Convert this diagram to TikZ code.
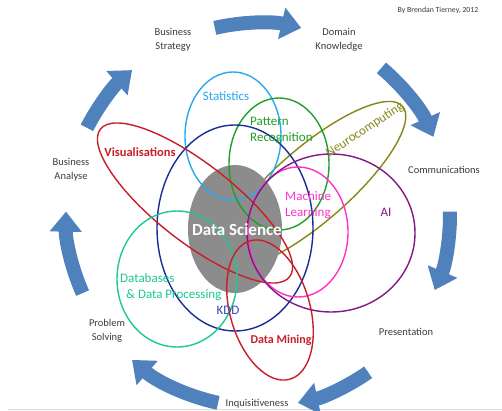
\documentclass[tikz,border=0pt]{standalone}
\usepackage{fontspec}
\setmainfont{Carlito}
\usetikzlibrary{arrows.meta}

\definecolor{cyclebl}{RGB}{79,129,189}
\definecolor{labelgray}{RGB}{60,60,60}
\definecolor{statblue}{RGB}{40,168,240}
\definecolor{patgreen}{RGB}{30,160,40}
\definecolor{kddblue}{RGB}{25,45,150}
\definecolor{kddtext}{RGB}{50,75,185}
\definecolor{visred}{RGB}{200,30,40}
\definecolor{dbteal}{RGB}{30,200,150}
\definecolor{mlpink}{RGB}{255,50,200}
\definecolor{aipurple}{RGB}{130,25,130}
\definecolor{neuroolive}{RGB}{135,135,25}
\definecolor{dsgray}{RGB}{140,140,140}

\tikzset{
  cyclearrow/.style={cyclebl, line width=14pt, -{Triangle[width=31pt,length=20pt]}},
  steplabel/.style={text=labelgray, align=center, font=\fontsize{10.5}{14}\selectfont},
  venn/.style={line width=1.4pt},
  topic/.style={align=left, inner sep=0pt, font=\fontsize{13}{16}\selectfont},
}

\begin{document}
\begin{tikzpicture}[x=1pt,y=-1pt]
    % Page
    \fill[white] (0,0) rectangle (502,411);
    \useasboundingbox (0,0) rectangle (502,411);
    \draw[gray!30, line width=1pt] (8,409.5) -- (502,409.5);

    % Cycle of arrows
    \coordinate (hub) at (258,215);
    \foreach \a/\b in {-103/-77, -50/-24, -1/23, 55/78, 102/131, 156/181, 207/229}
        \draw[cyclearrow] ([shift={(\a:192)}]hub) arc[start angle=\a, end angle=\b, radius=192];

    % Steps of the cycle
    \node[steplabel] (strategy) at (173,40) {Business\\Strategy};
    \node[steplabel] (domain) at (339,40) {Domain\\Knowledge};
    \node[steplabel] (comms) at (444,170) {Communications};
    \node[steplabel] (present) at (406,332) {Presentation};
    \node[steplabel] (inquis) at (257,404) {Inquisitiveness};
    \node[steplabel] (problem) at (107,331) {Problem\\Solving};
    \node[steplabel] (analyse) at (71,170) {Business\\Analyse};
    \node[text=labelgray, font=\fontsize{7.8}{9}\selectfont] (credit) at (438,10) {By Brendan Tierney, 2012};

    % Neurocomputing sits under the core
    \draw[venn, neuroolive] [rotate around={41:(312,185)}] (312,185) ellipse [x radius=120, y radius=37];

    % Data science core
    \fill[dsgray] (235,229) ellipse [x radius=47, y radius=64];

    % Overlapping fields
    \draw[venn, statblue] (233,136) ellipse [x radius=48, y radius=64];
    \draw[venn, patgreen] (279,164) ellipse [x radius=50, y radius=66];
    \draw[venn, kddblue] (235,228) ellipse [x radius=78, y radius=103];
    \draw[venn, visred] [rotate around={-38:(195,203)}] (195,203) ellipse [x radius=120, y radius=39];
    \draw[venn, dbteal] (177,279) ellipse [x radius=60, y radius=68];
    \draw[venn, mlpink] (298,232) ellipse [x radius=50, y radius=65];
    \draw[venn, aipurple] (331,233) ellipse [x radius=84, y radius=79];
    \draw[venn, visred] [rotate around={16:(270,310)}] (270,310) ellipse [x radius=40, y radius=72];

    % Field names
    \node[topic, text=statblue] (stats) at (226,96) {Statistics};
    \node[topic, text=patgreen, anchor=west] (pattern) at (250,130) {Pattern\\Recognition};
    \node[topic, text=visred, font=\bfseries\fontsize{12.5}{16}\selectfont] (vis) at (140,152) {Visualisations};
    \node[topic, text=white, font=\bfseries\fontsize{17}{20}\selectfont] (ds) at (237,230) {Data Science};
    \node[topic, text=mlpink, anchor=west] (ml) at (285,205) {Machine\\Learning};
    \node[topic, text=aipurple] (ai) at (386,212) {AI};
    \node[topic, text=kddtext] (kdd) at (228,310) {KDD};
    \node[topic, text=dbteal, anchor=west] (db) at (120,287) {Databases\\\hspace*{6pt}\& Data Processing};
    \node[topic, text=visred, font=\bfseries\fontsize{12}{16}\selectfont] (dm) at (281,340) {Data Mining};
    \node[topic, text=neuroolive, rotate=33] (neuro) at (365,130) {Neurocomputing};
\end{tikzpicture}
\end{document}
